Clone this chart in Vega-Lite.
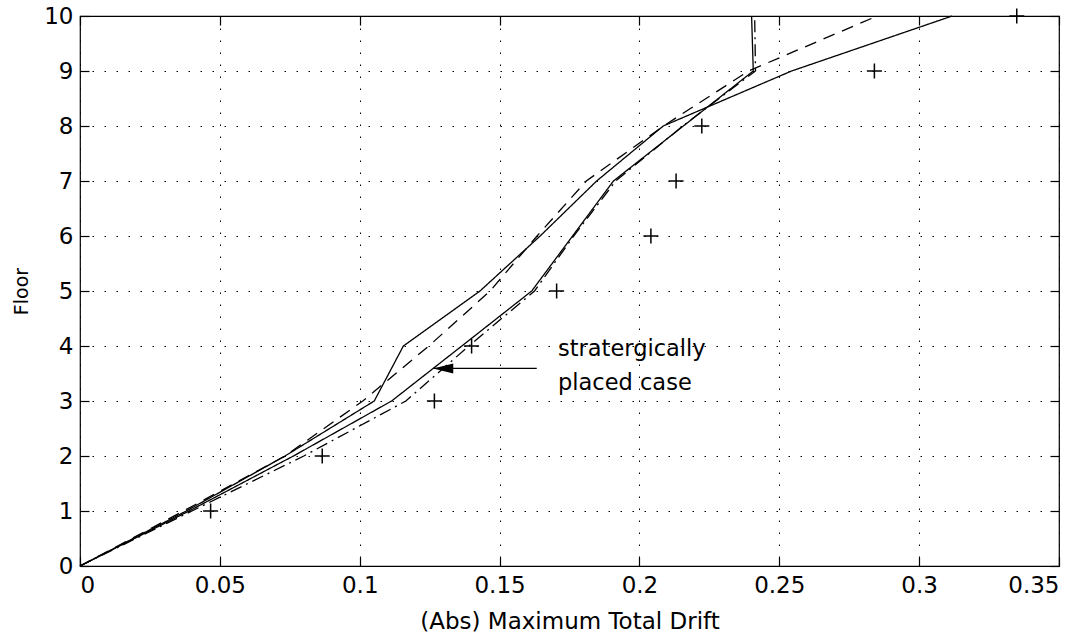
{
  "$schema": "https://vega.github.io/schema/vega-lite/v6.json",
  "width": 979,
  "height": 550,
  "autosize": {"type": "none"},
  "padding": {"left": 80, "top": 16, "right": 33, "bottom": 74},
  "background": "white",
  "config": {
    "view": {"stroke": "black", "strokeWidth": 1.2},
    "font": "DejaVu Sans",
    "axis": {
      "labelFont": "DejaVu Sans", "labelFontSize": 23, "labelColor": "black",
      "titleFont": "DejaVu Sans", "titleFontSize": 23, "titleFontWeight": "normal", "titleColor": "black",
      "domain": false, "tickColor": "black", "tickWidth": 1.2, "tickSize": -9,
      "gridColor": "black", "gridOpacity": 1, "gridDash": [1.5, 10.5], "gridWidth": 1
    }
  },
  "datasets": {
    "lines": [
      {"series": "A", "drift": 0, "floor": 0}, {"series": "A", "drift": 0.038, "floor": 1}, {"series": "A", "drift": 0.0733, "floor": 2},
      {"series": "A", "drift": 0.1052, "floor": 3}, {"series": "A", "drift": 0.1156, "floor": 4}, {"series": "A", "drift": 0.143, "floor": 5},
      {"series": "A", "drift": 0.1645, "floor": 6}, {"series": "A", "drift": 0.1847, "floor": 7}, {"series": "A", "drift": 0.2085, "floor": 8},
      {"series": "A", "drift": 0.2544, "floor": 9}, {"series": "A", "drift": 0.3118, "floor": 10},
      {"series": "B", "drift": 0, "floor": 0}, {"series": "B", "drift": 0.039, "floor": 1}, {"series": "B", "drift": 0.0763, "floor": 2},
      {"series": "B", "drift": 0.1114, "floor": 3}, {"series": "B", "drift": 0.1365, "floor": 4}, {"series": "B", "drift": 0.1615, "floor": 5},
      {"series": "B", "drift": 0.1761, "floor": 6}, {"series": "B", "drift": 0.1907, "floor": 7}, {"series": "B", "drift": 0.2157, "floor": 8},
      {"series": "B", "drift": 0.2407, "floor": 9}, {"series": "B", "drift": 0.2401, "floor": 10},
      {"series": "C", "drift": 0, "floor": 0}, {"series": "C", "drift": 0.037, "floor": 1}, {"series": "C", "drift": 0.0733, "floor": 2},
      {"series": "C", "drift": 0.1011, "floor": 3}, {"series": "C", "drift": 0.1247, "floor": 4}, {"series": "C", "drift": 0.1466, "floor": 5},
      {"series": "C", "drift": 0.1634, "floor": 6}, {"series": "C", "drift": 0.181, "floor": 7}, {"series": "C", "drift": 0.2086, "floor": 8},
      {"series": "C", "drift": 0.239, "floor": 9}, {"series": "C", "drift": 0.285, "floor": 10},
      {"series": "D", "drift": 0, "floor": 0}, {"series": "D", "drift": 0.04, "floor": 1}, {"series": "D", "drift": 0.08, "floor": 2},
      {"series": "D", "drift": 0.1165, "floor": 3}, {"series": "D", "drift": 0.139, "floor": 4}, {"series": "D", "drift": 0.1625, "floor": 5},
      {"series": "D", "drift": 0.1765, "floor": 6}, {"series": "D", "drift": 0.1915, "floor": 7}, {"series": "D", "drift": 0.2155, "floor": 8},
      {"series": "D", "drift": 0.2415, "floor": 9}, {"series": "D", "drift": 0.2412, "floor": 10}
    ],
    "points": [
      {"drift": 0.0467, "floor": 1}, {"drift": 0.0866, "floor": 2}, {"drift": 0.1267, "floor": 3}, {"drift": 0.14, "floor": 4},
      {"drift": 0.1704, "floor": 5}, {"drift": 0.2041, "floor": 6}, {"drift": 0.2131, "floor": 7}, {"drift": 0.2223, "floor": 8},
      {"drift": 0.284, "floor": 9}, {"drift": 0.3349, "floor": 10}
    ],
    "arrow": [{"drift": 0.1633, "drift2": 0.1263, "floor": 3.593}],
    "labels": [
      {"drift": 0.1709, "floor": 3.94, "label": "stratergically"},
      {"drift": 0.1709, "floor": 3.33, "label": "placed case"}
    ]
  },
  "layer": [
    {
      "layer": [
        {
          "data": {"name": "lines"},
          "mark": {"type": "line", "color": "black", "strokeWidth": 1.3},
          "encoding": {
            "x": {"field": "drift", "type": "quantitative", "scale": {"domain": [0, 0.35], "nice": false},
                  "axis": {"values": [0, 0.05, 0.1, 0.15, 0.2, 0.25, 0.3, 0.35], "format": "~g", "grid": true, "title": "(Abs) Maximum Total Drift", "labelPadding": 17, "titlePadding": 13}},
            "y": {"field": "floor", "type": "quantitative", "scale": {"domain": [0, 10], "nice": false},
                  "axis": {"values": [0, 1, 2, 3, 4, 5, 6, 7, 8, 9, 10], "format": "d", "grid": true, "title": "Floor", "titleFontSize": 19, "labelPadding": 16, "titlePadding": 12}},
            "detail": {"field": "series"},
            "order": {"field": "floor"},
            "strokeDash": {"field": "series", "legend": null,
                           "scale": {"domain": ["A", "B", "C", "D"], "range": [[1, 0], [1, 0], [12, 8], [12, 5, 2, 5]]}}
          }
        },
        {
          "data": {"name": "points"},
          "mark": {"type": "point", "shape": "M -1 0 L 1 0 M 0 -1 L 0 1", "filled": false, "color": "black", "strokeWidth": 1.5, "size": 225, "opacity": 1},
          "encoding": {
            "x": {"field": "drift", "type": "quantitative"},
            "y": {"field": "floor", "type": "quantitative"}
          }
        },
        {
          "data": {"name": "arrow"},
          "mark": {"type": "rule", "color": "black", "strokeWidth": 1.3},
          "encoding": {
            "x": {"field": "drift", "type": "quantitative"},
            "x2": {"field": "drift2"},
            "y": {"field": "floor", "type": "quantitative"}
          }
        },
        {
          "data": {"name": "arrow"},
          "mark": {"type": "point", "shape": "M 0 0 L 1 -0.25 L 1 0.25 Z", "filled": true, "color": "black", "size": 1600, "opacity": 1},
          "encoding": {
            "x": {"field": "drift2", "type": "quantitative"},
            "y": {"field": "floor", "type": "quantitative"}
          }
        },
        {
          "data": {"name": "labels"},
          "mark": {"type": "text", "align": "left", "baseline": "middle", "fontSize": 22.5, "font": "DejaVu Sans", "color": "black"},
          "encoding": {
            "x": {"field": "drift", "type": "quantitative"},
            "y": {"field": "floor", "type": "quantitative"},
            "text": {"field": "label"}
          }
        }
      ]
    },
    {
      "data": {"name": "points"},
      "mark": {"type": "point", "opacity": 0},
      "encoding": {
        "x": {"field": "drift", "type": "quantitative",
              "axis": {"orient": "top", "values": [0, 0.05, 0.1, 0.15, 0.2, 0.25, 0.3, 0.35], "labels": false, "grid": false, "title": null}},
        "y": {"field": "floor", "type": "quantitative",
              "axis": {"orient": "right", "values": [0, 1, 2, 3, 4, 5, 6, 7, 8, 9, 10], "labels": false, "grid": false, "title": null}}
      }
    }
  ],
  "resolve": {"axis": {"x": "independent", "y": "independent"}}
}
